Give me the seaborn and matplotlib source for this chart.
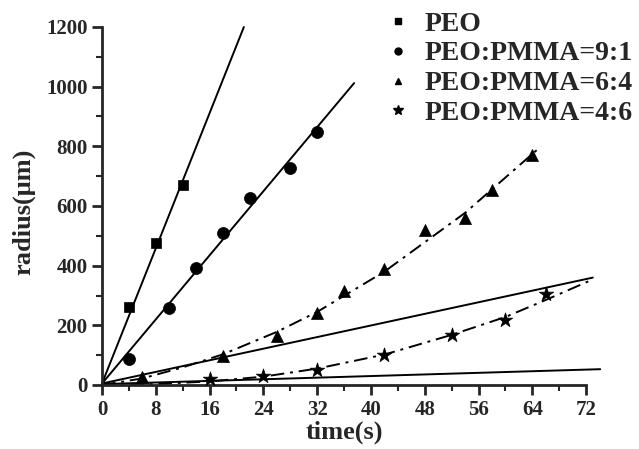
import matplotlib
matplotlib.use("Agg")
import matplotlib.pyplot as plt
import seaborn as sns
import pandas as pd

# measured points
peo_t = [4, 8, 12]
peo_r = [262, 476, 669]
pm91_t = [4, 10, 14, 18, 22, 28, 32]
pm91_r = [87, 259, 391, 511, 628, 728, 847]
pm64_t = [6, 18, 26, 32, 36, 42, 48, 54, 58, 64]
pm64_r = [27, 98, 163, 243, 315, 390, 519, 559, 654, 771]
pm46_t = [16, 24, 32, 42, 52, 60, 66]
pm46_r = [21, 30, 51, 100, 168, 218, 304]

# fitted lines / curves
fit_peo_t = [0, 21.1]
fit_peo_r = [5, 1200]
fit_91_t = [0, 37.5]
fit_91_r = [5, 1012]
fit_64_t = [0, 6, 12, 18, 26, 32, 42, 54, 65.3]
fit_64_r = [0, 22, 59, 103, 178, 245, 380, 577, 800]
fit_46_t = [0, 8, 16, 24, 32, 42, 52, 60, 66, 72.5]
fit_46_r = [0, 3, 12, 28, 55, 102, 168, 228, 285, 349]
fit_a_t = [0, 73]
fit_a_r = [5, 360]
fit_b_t = [0, 74.1]
fit_b_r = [3, 53]

labels = ["PEO", "PEO:PMMA=9:1", "PEO:PMMA=6:4", "PEO:PMMA=4:6"]

sns.set_style("ticks")
plt.rcParams['font.family'] = ['Liberation Serif', 'DejaVu Serif']
plt.rcParams['font.weight'] = 'bold'
plt.rcParams['mathtext.default'] = 'regular'

fig = plt.figure(figsize=(6.39, 4.49), dpi=100)
ax = fig.add_axes([102 / 639, 1 - 385 / 449, 511 / 639, 358 / 449])

# fit lines
for tt, rr in [(fit_peo_t, fit_peo_r), (fit_91_t, fit_91_r), (fit_a_t, fit_a_r), (fit_b_t, fit_b_r)]:
    sns.lineplot(x=tt, y=rr, ax=ax, color="black", lw=1.4, sort=False, clip_on=False)
for tt, rr in [(fit_64_t, fit_64_r), (fit_46_t, fit_46_r)]:
    sns.lineplot(x=tt, y=rr, ax=ax, color="black", lw=1.4, sort=False, clip_on=False,
                 dashes=False, linestyle=(0, (7, 3, 1.5, 3)))

# markers
sets = [(peo_t, peo_r, "s", 60), (pm91_t, pm91_r, "o", 75),
        (pm64_t, pm64_r, "^", 75), (pm46_t, pm46_r, "*", 120)]
handles = []
for (tt, rr, m, s), lab in zip(sets, labels):
    df = pd.DataFrame({"t": tt, "r": rr})
    sns.scatterplot(data=df, x="t", y="r", ax=ax, marker=m, s=s, color="black",
                    edgecolor="black", linewidth=0.5, clip_on=False, zorder=5)
    h, = ax.plot([], [], ls="none", marker=m, color="black", markersize=5 if m != "*" else 7)
    handles.append(h)

ax.set_xlim(0, 76)
ax.set_ylim(0, 1200)
ax.set_xticks(range(0, 73, 8))
ax.set_xticks(range(4, 73, 8), minor=True)
ax.set_yticks(range(0, 1201, 200))
ax.set_yticks(range(100, 1200, 200), minor=True)
ax.spines["bottom"].set_bounds(0, 72)
sns.despine(ax=ax)
for sp in ["left", "bottom"]:
    ax.spines[sp].set_linewidth(2)
ax.tick_params(which="major", length=7, width=2, labelsize=15, direction="out")
ax.tick_params(which="minor", length=4, width=1.5, direction="out")
for lab in ax.get_xticklabels() + ax.get_yticklabels():
    lab.set_fontweight("bold")

ax.set_xlabel("time(s)", fontsize=19, fontweight="bold", labelpad=0)
ax.xaxis.set_label_coords(36 / 76, -0.1)
ax.set_ylabel("radius(\u03bcm)", fontsize=19, fontweight="bold")
ax.yaxis.set_label_coords(-0.131, 0.483)

fig.legend(handles, labels, loc="upper left", bbox_to_anchor=(373 / 639, 1.0),
           frameon=False, prop={"size": 20, "weight": "bold"}, handlelength=1.0,
           handletextpad=0.45, labelspacing=0.16, borderaxespad=0)

fig.savefig("out.png", dpi=100)
